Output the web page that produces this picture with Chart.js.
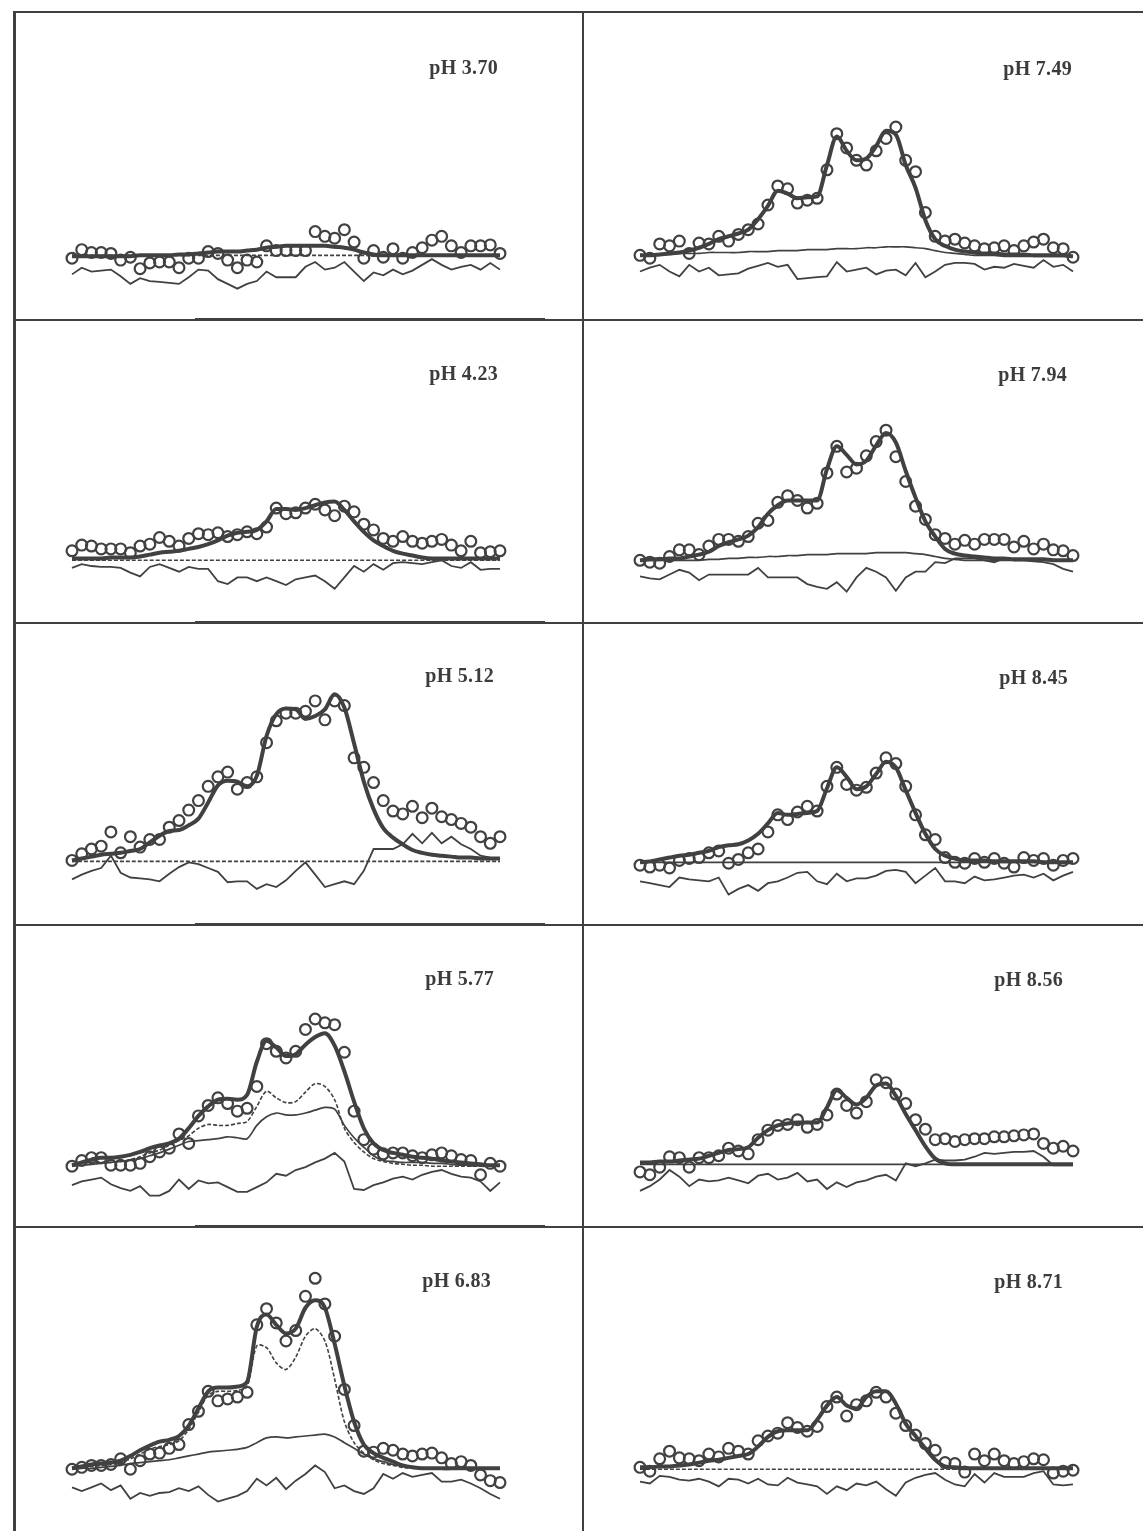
<!DOCTYPE html>
<html>
<head>
<meta charset="utf-8">
<title>pH series</title>
<script src="https://cdn.jsdelivr.net/npm/chart.js@4.4.0/dist/chart.umd.min.js"></script>
<style>
  html, body { margin: 0; padding: 0; background: #fff; }
  #page { position: relative; width: 1143px; height: 1531px; overflow: hidden; background: #fff; }
  .cell { position: absolute; }
  .rule { position: absolute; background: #404040; }
  .phLabel {
    position: absolute; width: 160px; text-align: right;
    font-family: "Liberation Serif", "Times New Roman", serif;
    font-weight: bold; font-size: 20px; line-height: 20px;
    letter-spacing: 0.3px; color: #3c3c3c;
  }
</style>
</head>
<body>
<div id="page"></div>
<script>
// channel index along the spectrum (same grid for every panel)
const channels = [0,1,2,3,4,5,6,7,8,9,10,11,12,13,14,15,16,17,18,19,20,21,22,23,24,25,26,27,28,29,30,31,32,33,34,35,36,37,38,39,40,41,42,43,44]

// intensities, arbitrary units above the panel baseline
// pH 3.70
const ph370Circles = [-2,7,4,4,3,-4,-1,-13,-7,-6,-6,-12,-2,-2,5,3,-4,-12,-4,-6,11,6,6,6,6,26,21,19,28,15,-2,6,-1,8,-2,4,9,17,21,11,4,11,11,12,3]
const ph370Fit = [0,0,0,0,0,0,0,1,1,1,1,2,2,3,4,5,5,5,6,7,9,10,11,11,11,11,11,10,9,7,4,2,1,1,1,1,1,1,1,1,1,1,1,1,1]
const ph370Resid = [-19,-12,-16,-15,-14,-21,-29,-23,-26,-27,-28,-29,-22,-14,-15,-24,-29,-34,-29,-26,-16,-22,-22,-22,-11,-6,-14,-12,-6,-16,-26,-17,-20,-14,-19,-15,-9,-3,-9,-14,-11,-9,-14,-7,-14]
const ph370Base = [1, 1]

// pH 4.23
const ph423Circles = [10,16,15,12,12,12,8,15,17,24,20,15,23,28,27,29,25,27,30,28,35,55,49,50,55,59,53,47,57,51,38,32,23,20,25,20,18,20,22,16,10,20,8,9,10]
const ph423Fit = [2,2,2,2,3,3,3,4,6,8,9,10,12,14,17,21,26,29,30,32,41,54,54,53,55,58,61,62,53,41,30,21,15,10,7,5,3,2,2,2,2,2,2,2,2]
const ph423Resid = [-8,-4,-6,-7,-7,-8,-13,-17,-7,-4,-8,-12,-7,-9,-9,-22,-25,-18,-18,-22,-18,-22,-26,-20,-18,-16,-22,-30,-18,-6,-12,-4,-10,-3,-2,-3,-4,-2,0,-6,-8,-2,-10,-9,-9]
const ph423Base = [0, 0]

// pH 5.12
const ph512Circles = [1,8,13,16,31,9,26,15,23,23,36,43,54,64,79,89,94,76,83,89,125,148,156,156,158,169,149,169,164,109,99,83,64,53,50,58,46,56,47,44,40,36,26,19,26]
const ph512Fit = [1,3,5,7,8,9,11,13,20,27,32,33,38,45,62,80,85,84,79,90,132,155,161,160,150,153,160,176,162,124,84,55,35,25,18,12,9,7,6,5,4,4,3,3,3]
const ph512Resid = [-19,-14,-10,-7,6,-12,-17,-18,-19,-21,-13,-6,-1,-3,-7,-11,-22,-21,-21,-29,-24,-27,-20,-10,-1,-14,-27,-24,-21,-24,-10,13,13,13,18,29,19,30,19,26,18,13,6,4,3]
const ph512Base = [0, 0]

// pH 5.77
const ph577Circles = [0,6,9,9,1,1,1,3,10,15,19,34,24,53,64,72,66,58,61,84,129,121,114,121,144,155,151,149,120,58,28,18,13,14,14,11,9,12,14,11,7,6,-9,3,0]
const ph577Fit = [1,4,7,9,9,10,12,15,19,22,24,29,40,53,63,70,71,70,75,110,132,125,116,118,128,136,140,127,100,68,40,24,17,14,12,10,9,8,6,5,4,3,2,1,1]
const ph577Dash = [0,3,4,4,4,5,7,10,14,17,22,27,32,40,44,43,43,45,47,63,79,72,67,68,78,87,84,70,40,25,15,8,5,3,2,1,1,0,0,0,0,0,0,0,0]
const ph577Thin = [0,1,2,3,4,5,6,8,11,14,18,22,26,27,28,29,31,30,29,43,52,56,54,54,56,59,62,60,43,30,20,11,6,5,4,4,4,3,3,2,1,1,0,0,0]
const ph577Resid = [-20,-16,-14,-12,-19,-23,-26,-21,-31,-31,-26,-14,-24,-15,-18,-17,-22,-27,-27,-22,-17,-8,-10,-4,-1,4,8,14,5,-24,-25,-20,-17,-13,-11,-14,-9,-6,-4,-8,-11,-12,-16,-26,-17]

// pH 6.83
const ph683Circles = [0,2,4,4,5,11,0,9,16,17,22,26,47,61,82,72,74,76,81,152,169,154,135,146,182,201,174,140,84,46,19,18,22,20,16,14,16,17,12,6,8,4,-6,-12,-14]
const ph683Fit = [1,3,5,6,7,9,14,20,25,29,31,35,46,64,82,86,86,87,92,150,163,152,143,148,170,178,170,132,88,50,26,17,12,8,4,2,1,1,1,1,1,1,1,1,1]
const ph683Dash = [0,2,3,4,5,7,11,16,21,24,26,30,42,60,78,82,82,83,87,130,128,112,105,118,140,148,135,95,50,28,17,10,6,4,2,1,1,0,0,0,0,0,0,0,0]
const ph683Thin = [0,1,1,2,3,4,6,7,8,9,10,12,14,16,18,19,20,21,23,28,33,34,33,34,35,36,37,34,28,22,16,11,8,5,3,2,1,1,0,0,0,0,0,0,0]
const ph683Resid = [-19,-23,-19,-15,-22,-17,-31,-25,-28,-25,-24,-20,-23,-18,-27,-34,-31,-28,-23,-10,-17,-9,-21,-12,-5,4,-3,-20,-17,-23,-26,-20,-5,-10,-4,-8,-6,-4,-13,-13,-11,-15,-20,-26,-31]

// pH 7.49
const ph749Circles = [1,-2,13,11,16,3,14,13,21,16,23,28,34,54,74,71,56,59,61,91,129,114,101,96,111,124,136,101,89,46,21,16,18,14,11,8,9,11,6,11,15,18,9,8,-1]
const ph749Fit = [1,1,2,3,4,6,9,13,18,21,24,28,39,53,69,66,61,62,63,96,126,111,101,103,116,132,128,96,72,38,18,11,7,5,4,3,3,2,2,2,1,1,1,1,0]
const ph749Thin = [1,1,2,2,3,3,3,4,4,4,4,5,5,5,6,6,6,7,7,7,8,8,8,9,9,10,10,10,9,8,6,4,3,2,1,1,1,0,0,0,0,0,0,0,0]
const ph749Resid = [-16,-12,-9,-16,-21,-9,-16,-12,-20,-19,-18,-13,-10,-7,-11,-9,-24,-23,-22,-21,-6,-16,-14,-12,-19,-15,-14,-20,-7,-22,-16,-9,-7,-7,-8,-14,-11,-12,-8,-10,-12,-4,-11,-9,-16]

// pH 7.94
const ph794Circles = [1,-1,-2,5,12,12,7,16,23,23,21,26,40,43,62,69,64,56,61,93,121,94,98,111,126,138,110,84,58,44,28,24,18,22,18,23,23,23,15,21,13,18,12,11,6]
const ph794Fit = [1,2,2,3,3,5,7,10,16,20,23,27,36,50,59,64,64,64,64,97,121,112,102,106,122,135,125,95,67,42,26,13,8,6,5,4,3,3,2,2,2,2,1,1,1]
const ph794Thin = [1,1,1,1,1,1,1,2,2,3,3,4,4,5,5,6,6,7,7,7,8,8,8,8,9,9,9,9,8,7,5,3,2,1,1,1,1,1,1,1,1,1,1,1,1]
const ph794Resid = [-16,-18,-19,-14,-9,-12,-20,-14,-14,-14,-14,-14,-7,-17,-17,-17,-17,-24,-27,-29,-22,-32,-17,-7,-11,-17,-31,-17,-11,-11,-1,-2,3,3,3,1,-1,3,1,1,0,-1,-3,-8,-11]

// pH 8.45
const ph845Circles = [-3,-5,-3,-6,2,4,5,10,12,-1,3,10,14,32,50,45,53,59,54,80,100,82,76,79,94,110,104,80,50,29,24,5,0,-1,4,0,4,-1,-5,5,2,4,-3,2,4]
const ph845Fit = [0,1,3,5,7,8,10,12,16,18,19,23,30,41,52,50,51,52,54,78,100,90,77,80,93,106,100,76,52,30,14,7,4,2,2,2,1,1,1,1,1,0,0,0,0]
const ph845Resid = [-20,-22,-24,-26,-16,-18,-19,-20,-16,-34,-28,-24,-30,-22,-20,-16,-11,-10,-20,-23,-12,-20,-17,-17,-14,-9,-8,-10,-22,-14,-6,-20,-20,-22,-15,-19,-18,-16,-14,-13,-16,-12,-19,-14,-10]
const ph845Base = [0, 0]

// pH 8.56
const ph856Circles = [-8,-11,-3,8,7,-3,7,7,9,17,14,11,26,36,41,42,47,39,42,52,74,62,54,66,89,86,74,64,47,37,26,27,24,26,27,27,29,29,30,31,32,22,17,19,14]
const ph856Fit = [2,2,3,3,4,5,6,9,12,15,16,18,28,36,41,43,44,44,44,60,78,70,63,70,83,85,72,53,36,19,6,1,0,0,0,0,0,0,0,0,0,0,0,0,0]
const ph856Resid = [-28,-23,-16,-6,-13,-23,-16,-18,-17,-14,-17,-20,-12,-10,-16,-14,-9,-18,-16,-26,-19,-24,-19,-17,-13,-11,-17,1,-2,1,5,4,4,5,8,12,11,12,13,13,14,8,-1,-1,-1]
const ph856Base = [0, 0]

// pH 8.71
const ph871Circles = [2,-2,11,19,12,11,9,16,13,22,19,16,30,35,38,49,44,40,45,66,76,56,68,72,81,76,59,46,36,27,20,7,6,-3,16,9,16,9,6,8,11,10,-4,-2,-1]
const ph871Fit = [2,2,3,3,4,5,7,9,10,12,14,16,24,34,40,41,41,41,52,67,76,67,64,76,82,82,69,48,35,22,10,3,2,1,1,1,1,1,1,1,1,1,1,1,1]
const ph871Resid = [-13,-15,-7,-8,-11,-12,-10,-13,-18,-10,-11,-15,-10,-16,-17,-9,-14,-16,-18,-26,-18,-22,-15,-17,-13,-21,-28,-14,-9,-6,-4,-11,-16,-18,-5,-14,-4,-8,-8,-8,-4,-2,-16,-17,-16]
const ph871Base = [0, 0]

// which series go in which panel
const panels = [
    { label: 'pH 3.70', circles: ph370Circles, fit: ph370Fit, resid: ph370Resid, dashed: [ph370Base], thin: [] },
    { label: 'pH 4.23', circles: ph423Circles, fit: ph423Fit, resid: ph423Resid, dashed: [ph423Base], thin: [] },
    { label: 'pH 5.12', circles: ph512Circles, fit: ph512Fit, resid: ph512Resid, dashed: [ph512Base], thin: [] },
    { label: 'pH 5.77', circles: ph577Circles, fit: ph577Fit, resid: ph577Resid, dashed: [ph577Dash], thin: [ph577Thin] },
    { label: 'pH 6.83', circles: ph683Circles, fit: ph683Fit, resid: ph683Resid, dashed: [ph683Dash], thin: [ph683Thin] },
    { label: 'pH 7.49', circles: ph749Circles, fit: ph749Fit, resid: ph749Resid, dashed: [], thin: [ph749Thin] },
    { label: 'pH 7.94', circles: ph794Circles, fit: ph794Fit, resid: ph794Resid, dashed: [], thin: [ph794Thin] },
    { label: 'pH 8.45', circles: ph845Circles, fit: ph845Fit, resid: ph845Resid, dashed: [], thin: [ph845Base] },
    { label: 'pH 8.56', circles: ph856Circles, fit: ph856Fit, resid: ph856Resid, dashed: [], thin: [ph856Base] },
    { label: 'pH 8.71', circles: ph871Circles, fit: ph871Fit, resid: ph871Resid, dashed: [ph871Base], thin: [] }
]

// page layout (pixels): grid cells, baseline of each plot, label anchor
const cellLeft = [14, 583], cellRight = [583, 1143]
const rowTop = [12, 320, 623, 925, 1227], rowBottom = [320, 623, 925, 1227, 1531]
const plotLeft = [72, 640], plotRight = [500, 1073]
const layout = [
    { col: 0, row: 0, base: 261, labelX: 498, labelY: 74 },
    { col: 0, row: 1, base: 565, labelX: 498, labelY: 380 },
    { col: 0, row: 2, base: 866, labelX: 494, labelY: 682 },
    { col: 0, row: 3, base: 1171, labelX: 494, labelY: 985 },
    { col: 0, row: 4, base: 1474, labelX: 491, labelY: 1287 },
    { col: 1, row: 0, base: 261, labelX: 1072, labelY: 75 },
    { col: 1, row: 1, base: 566, labelX: 1067, labelY: 381 },
    { col: 1, row: 2, base: 867, labelX: 1068, labelY: 684 },
    { col: 1, row: 3, base: 1169, labelX: 1063, labelY: 986 },
    { col: 1, row: 4, base: 1474, labelX: 1063, labelY: 1288 }
]

const ink = '#414141'
const page = document.getElementById('page')

// turn a value list into {x,y} points; two-value lists are flat lines end to end
function toPoints(vals) {
    if (vals.length === 2) {
        return [{ x: channels[0], y: vals[0] }, { x: channels[channels.length - 1], y: vals[1] }]
    }
    return vals.map(function (v, i) { return { x: channels[i], y: v } })
}

function addRule(x, y, w, h) {
    let d = document.createElement('div')
    d.className = 'rule'
    d.style.left = x + 'px'
    d.style.top = y + 'px'
    d.style.width = w + 'px'
    d.style.height = h + 'px'
    page.appendChild(d)
}

// frame lines
addRule(13, 11, 1130, 2)
addRule(13, 11, 3, 1520)
addRule(582, 11, 2, 1520)
for (let r = 1; r < rowTop.length; r++) {
    addRule(14, rowTop[r] - 1, 1129, 2)
    addRule(195, rowTop[r] - 2, 350, 3)
}

panels.forEach(function (p, k) {
    let L = layout[k]
    let left = cellLeft[L.col], top = rowTop[L.row]
    let w = cellRight[L.col] - left, h = rowBottom[L.row] - top

    let box = document.createElement('div')
    box.className = 'cell'
    box.style.left = left + 'px'
    box.style.top = top + 'px'
    box.style.width = w + 'px'
    box.style.height = h + 'px'
    let cv = document.createElement('canvas')
    cv.width = w
    cv.height = h
    cv.style.width = w + 'px'
    cv.style.height = h + 'px'
    box.appendChild(cv)
    page.appendChild(box)

    // label as real text
    let lab = document.createElement('div')
    lab.className = 'phLabel'
    lab.textContent = p.label
    lab.style.left = (L.labelX - 160) + 'px'
    lab.style.top = (L.labelY - 17) + 'px'
    page.appendChild(lab)

    let ds = []
    ds.push({
        data: toPoints(p.circles), showLine: false,
        pointRadius: 5.4, pointBorderWidth: 2.2, pointBorderColor: ink,
        pointBackgroundColor: 'rgba(0,0,0,0)', borderColor: ink, clip: false
    })
    ds.push({
        data: toPoints(p.fit), borderColor: ink, borderWidth: 4,
        pointRadius: 0, cubicInterpolationMode: 'monotone', clip: false
    })
    p.dashed.forEach(function (d) {
        ds.push({
            data: toPoints(d), borderColor: ink, borderWidth: 1.6, borderDash: [4, 2],
            pointRadius: 0, tension: 0.3, clip: false
        })
    })
    p.thin.forEach(function (d) {
        ds.push({
            data: toPoints(d), borderColor: ink, borderWidth: 1.7,
            pointRadius: 0, tension: 0.3, clip: false
        })
    })
    ds.push({
        data: toPoints(p.resid), borderColor: ink, borderWidth: 1.8,
        pointRadius: 0, tension: 0, clip: false
    })

    new Chart(cv, {
        type: 'line',
        data: { datasets: ds },
        options: {
            responsive: false,
            animation: false,
            events: [],
            layout: {
                padding: {
                    left: plotLeft[L.col] - left,
                    right: cellRight[L.col] - plotRight[L.col],
                    top: 0,
                    bottom: 0
                }
            },
            plugins: { legend: { display: false }, tooltip: { enabled: false } },
            scales: {
                x: { type: 'linear', min: channels[0], max: channels[channels.length - 1], display: false },
                y: { min: L.base - rowBottom[L.row], max: L.base - top, display: false }
            }
        }
    })
})
</script>
</body>
</html>
